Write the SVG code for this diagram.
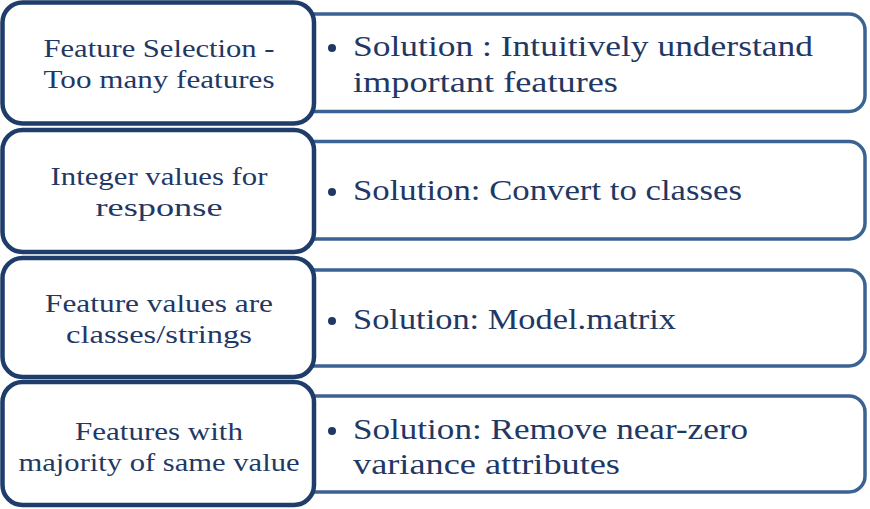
<svg xmlns="http://www.w3.org/2000/svg" width="870" height="509" viewBox="0 0 870 509">
<style>
.rb{fill:#ffffff;stroke:#3B6392;stroke-width:3.5}
.lb{fill:#ffffff;stroke:#1F3D6B;stroke-width:4.5}
.lt{font-family:'Liberation Serif',serif;font-size:26px;fill:#1F3864;text-anchor:middle}
.rt{font-family:'Liberation Serif',serif;font-size:30px;fill:#1F3864}
.bul{fill:#1F3864}
</style>
<rect width="870" height="509" fill="#ffffff"/>
<g id="row1-solution">
<rect class="rb" x="280" y="14" width="585" height="97.5" rx="16"/>
<circle class="bul" cx="332" cy="48" r="4"/>
<text class="rt" x="353" y="56" textLength="460" lengthAdjust="spacingAndGlyphs">Solution : Intuitively understand</text>
<text class="rt" x="353" y="92" textLength="265" lengthAdjust="spacingAndGlyphs">important features</text>
</g>
<g id="row2-solution">
<rect class="rb" x="280" y="141.5" width="585" height="97.5" rx="16"/>
<circle class="bul" cx="332" cy="192" r="4"/>
<text class="rt" x="353" y="200" textLength="389" lengthAdjust="spacingAndGlyphs">Solution: Convert to classes</text>
</g>
<g id="row3-solution">
<rect class="rb" x="280" y="270" width="585" height="96" rx="16"/>
<circle class="bul" cx="332" cy="321" r="4"/>
<text class="rt" x="353" y="329" textLength="323" lengthAdjust="spacingAndGlyphs">Solution: Model.matrix</text>
</g>
<g id="row4-solution">
<rect class="rb" x="280" y="396" width="585" height="96" rx="16"/>
<circle class="bul" cx="332" cy="431" r="4"/>
<text class="rt" x="353" y="439" textLength="395" lengthAdjust="spacingAndGlyphs">Solution: Remove near-zero</text>
<text class="rt" x="353" y="474" textLength="267" lengthAdjust="spacingAndGlyphs">variance attributes</text>
</g>
<g id="row1-problem">
<rect class="lb" x="2.5" y="2.5" width="311.5" height="121" rx="20"/>
<text class="lt" x="159" y="57" textLength="231" lengthAdjust="spacingAndGlyphs">Feature Selection -</text>
<text class="lt" x="159" y="88" textLength="231" lengthAdjust="spacingAndGlyphs">Too many features</text>
</g>
<g id="row2-problem">
<rect class="lb" x="2.5" y="130" width="311.5" height="122" rx="20"/>
<text class="lt" x="159" y="185" textLength="217" lengthAdjust="spacingAndGlyphs">Integer values for</text>
<text class="lt" x="159" y="216" textLength="127" lengthAdjust="spacingAndGlyphs">response</text>
</g>
<g id="row3-problem">
<rect class="lb" x="2.5" y="258" width="311.5" height="119" rx="20"/>
<text class="lt" x="159" y="312" textLength="228" lengthAdjust="spacingAndGlyphs">Feature values are</text>
<text class="lt" x="159" y="343" textLength="186" lengthAdjust="spacingAndGlyphs">classes/strings</text>
</g>
<g id="row4-problem">
<rect class="lb" x="2.5" y="382" width="311.5" height="123" rx="20"/>
<text class="lt" x="159" y="440" textLength="168" lengthAdjust="spacingAndGlyphs">Features with</text>
<text class="lt" x="159" y="471" textLength="281" lengthAdjust="spacingAndGlyphs">majority of same value</text>
</g>
<g id="connectors"/>
</svg>
